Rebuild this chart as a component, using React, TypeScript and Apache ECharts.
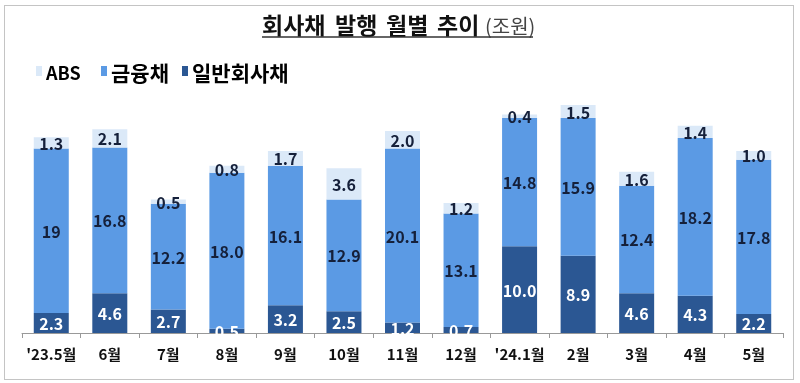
import React, { useEffect, useRef } from "react";
import * as echarts from "echarts";

const categories = ["'23.5월", "6월", "7월", "8월", "9월", "10월", "11월", "12월", "'24.1월", "2월", "3월", "4월", "5월"];
const corpLabels = ["2.3", "4.6", "2.7", "0.5", "3.2", "2.5", "1.2", "0.7", "10.0", "8.9", "4.6", "4.3", "2.2"];
const finLabels = ["19", "16.8", "12.2", "18.0", "16.1", "12.9", "20.1", "13.1", "14.8", "15.9", "12.4", "18.2", "17.8"];
const absLabels = ["1.3", "2.1", "0.5", "0.8", "1.7", "3.6", "2.0", "1.2", "0.4", "1.5", "1.6", "1.4", "1.0"];

const seriesNames = ["ABS", "금융채", "일반회사채"];
const titleWords = ["회사채", "발행", "월별", "추이"];
const unitText = "(조원)";
const colors = { abs: "#dbe9f8", fin: "#5b9ae4", corp: "#2b5793" };

const FONT = "'Noto Sans CJK KR', 'Noto Sans', sans-serif";

export default function App() {
  const ref = useRef<HTMLDivElement>(null);
  useEffect(() => {
    if (!ref.current) return;
    const chart = echarts.init(ref.current, null, { renderer: "svg" });
    const mk = (name: string, labels: string[], color: string, textColor: string) => ({
      name,
      type: "bar",
      stack: "total",
      barWidth: 35,
      data: labels.map(Number),
      itemStyle: { color },
      label: {
        show: true,
        position: "inside",
        color: textColor,
        fontFamily: FONT,
        fontWeight: "bold",
        fontSize: 16,
        formatter: (p: any) => labels[p.dataIndex],
      },
    });
    const legendColors = [colors.abs, colors.fin, colors.corp];
    const legendIconX = [36, 101, 182];
    const legendFont = [18, 21, 21];
    const legendGraphics: any[] = [];
    seriesNames.forEach((n, i) => {
      legendGraphics.push({
        type: "rect",
        shape: { x: legendIconX[i], y: 66, width: 6, height: 10 },
        style: { fill: legendColors[i] },
      });
      legendGraphics.push({
        type: "text",
        x: legendIconX[i] + 10,
        y: 72,
        style: {
          text: n,
          fill: "#000",
          font: `bold ${legendFont[i]}px ${FONT}`,
          textVerticalAlign: "middle",
        },
      });
    });
    const titleX = [262, 335, 386, 437];
    const titleGraphics = titleWords.map((w, i) => ({
      type: "text",
      x: titleX[i],
      y: 24,
      style: {
        text: w,
        fill: "#111",
        font: `bold 23px ${FONT}`,
        textVerticalAlign: "middle",
      },
    }));
    chart.setOption({
      animation: false,
      grid: { left: 22, right: 17, top: 73, bottom: 50 },
      xAxis: {
        type: "category",
        data: categories,
        axisLine: { lineStyle: { color: "#999", width: 1 } },
        axisTick: { show: true, length: 5, interval: 0, lineStyle: { color: "#999" } },
        axisLabel: {
          interval: 0,
          color: "#111",
          fontFamily: FONT,
          fontWeight: "bold",
          fontSize: 15,
          margin: 13,
        },
      },
      yAxis: { type: "value", min: 0, max: 30, show: false, splitLine: { show: false } },
      series: [
        mk("일반회사채", corpLabels, colors.corp, "#ffffff"),
        mk("금융채", finLabels, colors.fin, "#15203a"),
        mk("ABS", absLabels, colors.abs, "#15203a"),
      ],
      graphic: [
        {
          type: "rect",
          shape: { x: 4.5, y: 5.5, width: 789, height: 374 },
          style: { fill: "none", stroke: "#888", lineWidth: 1, lineDash: [1, 1] },
        },
        ...titleGraphics,
        {
          type: "text",
          x: 485,
          y: 25,
          style: {
            text: unitText,
            fill: "#444",
            font: `20px ${FONT}`,
            textVerticalAlign: "middle",
          },
        },
        {
          type: "line",
          shape: { x1: 262, y1: 37, x2: 533, y2: 37 },
          style: { stroke: "#333", lineWidth: 1.5 },
        },
        ...legendGraphics,
      ],
    });
    return () => chart.dispose();
  }, []);
  return <div ref={ref} style={{ position: "fixed", left: 0, top: 0, width: 800, height: 383 }} />;
}
